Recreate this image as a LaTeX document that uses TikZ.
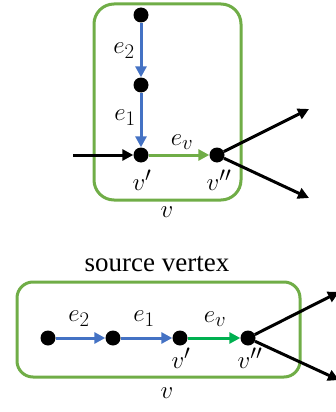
\documentclass[tikz,border=0pt]{standalone}
\usepackage{fontspec}
\setmainfont{Liberation Serif}
\usetikzlibrary{arrows.meta}
\definecolor{boxgreen}{RGB}{112,173,71}
\definecolor{edgeblue}{RGB}{68,114,196}
\definecolor{edgegreen}{RGB}{0,176,80}
\tikzset{
  dot/.style={circle, fill=black, inner sep=0pt, minimum size=15pt},
  vbox/.style={draw=boxgreen, line width=3pt},
  arc/.style={line width=3pt, -{Triangle[length=11pt,width=11pt]}},
  title/.style={font=\fontsize{27}{30}\selectfont, inner sep=1pt},
  lbl/.style={font=\fontsize{30}{32}\selectfont, inner sep=1pt}
}
\begin{document}
\begin{tikzpicture}[x=1pt, y=-1pt]
  \useasboundingbox (0,0) rectangle (336,412);
  % vertical layout
  \begin{scope}
    \draw[vbox, rounded corners=20pt] (94,4) rectangle (241,200);
    \node[dot] (a2) at (141,15) {};
    \node[dot] (a1) at (141,85) {};
    \node[dot] (a') at (141,155) {};
    \node[dot] (a'') at (217,155) {};
    \coordinate (ain) at (73,155);
    \coordinate (aup) at (309,109);
    \coordinate (adn) at (309,198);
    \draw[arc, edgeblue] (a2) -- (a1);
    \draw[arc, edgeblue] (a1) -- (a');
    \draw[arc, boxgreen] (a') -- (a'');
    \draw[arc] (ain) -- (a');
    \draw[arc] (a'') -- (aup);
    \draw[arc] (a'') -- (adn);
    \node[lbl] (ae2) at (124,51) {$e_2$};
    \node[lbl] (ae1) at (125,118) {$e_1$};
    \node[lbl] (aev) at (182,142) {$e_v$};
    \node[lbl] (av') at (142,180) {$v'$};
    \node[lbl] (av'') at (219,180) {$v''$};
    \node[lbl] (av) at (167,212) {$v$};
  \end{scope}
  % horizontal layout
  \begin{scope}
    \node[title] (ttl) at (157,264) {source vertex};
    \draw[vbox, rounded corners=16pt] (17,282) rectangle (300,377);
    \node[dot] (b2) at (48,338) {};
    \node[dot] (b1) at (113,338) {};
    \node[dot] (b') at (180,338) {};
    \node[dot] (b'') at (248,338) {};
    \coordinate (bup) at (339,292);
    \coordinate (bdn) at (339,380);
    \draw[arc, edgeblue] (b2) -- (b1);
    \draw[arc, edgeblue] (b1) -- (b');
    \draw[arc, edgegreen] (b') -- (b'');
    \draw[arc] (b'') -- (bup);
    \draw[arc] (b'') -- (bdn);
    \node[lbl] (be2) at (79,319) {$e_2$};
    \node[lbl] (be1) at (144,319) {$e_1$};
    \node[lbl] (bev) at (215,319) {$e_v$};
    \node[lbl] (bv') at (181,358) {$v'$};
    \node[lbl] (bv'') at (250,358) {$v''$};
    \node[lbl] (bv) at (167,393) {$v$};
  \end{scope}
\end{tikzpicture}
\end{document}
